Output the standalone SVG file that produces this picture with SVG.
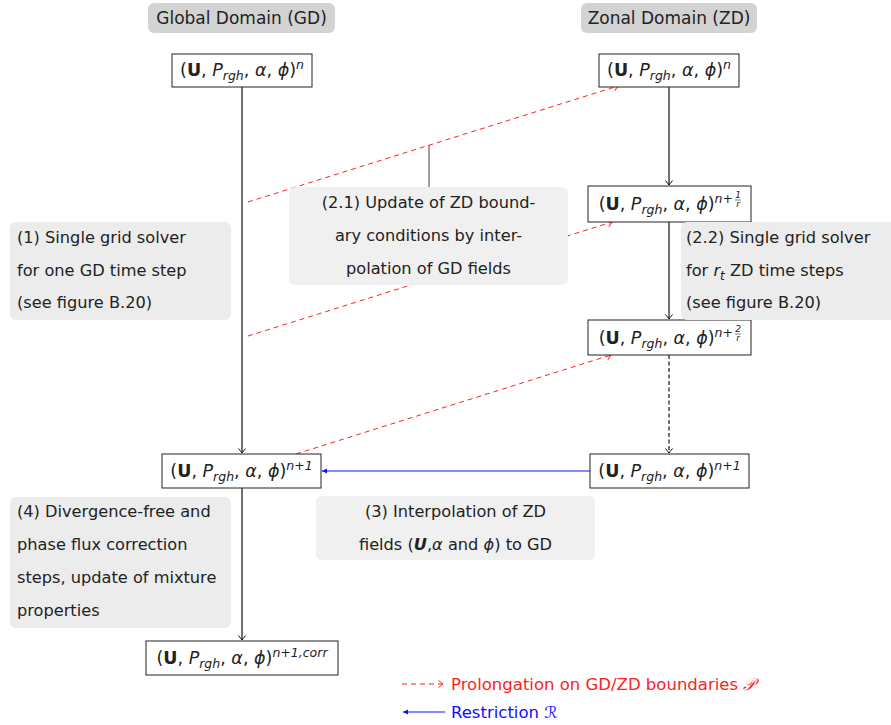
<svg xmlns="http://www.w3.org/2000/svg" width="891" height="725" viewBox="0 0 891 725" font-family="'DejaVu Sans', sans-serif">
<style>
  text { font-family: "DejaVu Sans", sans-serif; fill: #222; font-size: 16.2px; }
  .h { font-size: 17px; }
  .hdr { fill: #d3d3d3; }
  .note { fill: #ececec; }
  .note2 { fill: #f0f0f0; }
  .box { fill: #fff; stroke: #222; stroke-width: 1; }
  .m { font-size: 17.5px; }
  .i { font-style: italic; }
  .b { font-weight: bold; }
  .sub { font-size: 12.5px; font-style: italic; }
  .sup { font-size: 12.5px; font-style: italic; }
  .fr { font-size: 9px; font-style: italic; }
  .lg { font-size: 16.5px; }
  .solid { stroke: #111; stroke-width: 1.2; fill: none; }
  .bdash { stroke: #111; stroke-width: 1.2; fill: none; stroke-dasharray: 4 2.5; }
  .red { stroke: #ff2020; stroke-width: 1; fill: none; stroke-dasharray: 5 4; }
  .blue { stroke: #1010ff; stroke-width: 1.2; fill: none; }
</style>
<defs>
  <marker id="to" markerUnits="userSpaceOnUse" markerWidth="12" markerHeight="12" viewBox="-6 -6 12 12" refX="0" refY="0" orient="auto">
    <path d="M-4.5,-3.5 Q-1.2,-1 0,0 Q-1.2,1 -4.5,3.5" fill="none" stroke="#111" stroke-width="1"/>
  </marker>
  <marker id="toRed" markerUnits="userSpaceOnUse" markerWidth="12" markerHeight="12" viewBox="-6 -6 12 12" refX="0" refY="0" orient="auto">
    <path d="M-4.5,-3.5 Q-1.2,-1 0,0 Q-1.2,1 -4.5,3.5" fill="none" stroke="#ff2020" stroke-width="1"/>
  </marker>
  <marker id="tri" markerUnits="userSpaceOnUse" markerWidth="12" markerHeight="12" viewBox="-6 -6 12 12" refX="0" refY="0" orient="auto">
    <path d="M-5,-2.5 L0,0 L-5,2.5 Z" fill="#1010ff"/>
  </marker>
</defs>

<g id="connectors">
  <line class="solid" x1="242" y1="87" x2="242" y2="453" marker-end="url(#to)"/>
  <line class="solid" x1="242" y1="488" x2="242" y2="640" marker-end="url(#to)"/>
  <line class="solid" x1="669" y1="87" x2="669" y2="185" marker-end="url(#to)"/>
  <line class="solid" x1="669" y1="222" x2="669" y2="319" marker-end="url(#to)"/>
  <line class="bdash" x1="669" y1="355" x2="669" y2="453" marker-end="url(#to)"/>
  <line class="blue" x1="590" y1="471" x2="322" y2="471" marker-end="url(#tri)"/>
  <line class="red" x1="248" y1="202" x2="618" y2="86" marker-end="url(#toRed)"/>
  <line class="red" x1="248" y1="336" x2="612" y2="222" marker-end="url(#toRed)"/>
  <line class="red" x1="296" y1="454" x2="611" y2="355" marker-end="url(#toRed)"/>
  <line x1="429" y1="145" x2="429" y2="187" stroke="#444" stroke-width="1"/>
</g>

<g id="hdr-gd">
  <rect class="hdr" x="148" y="3" width="187" height="30" rx="6"/>
  <text class="h" x="241.5" y="24" text-anchor="middle">Global Domain (GD)</text>
</g>
<g id="hdr-zd">
  <rect class="hdr" x="581" y="3" width="176" height="30" rx="6"/>
  <text class="h" x="669" y="24" text-anchor="middle">Zonal Domain (ZD)</text>
</g>

<g id="gd-n">
  <rect class="box" x="172" y="54" width="140" height="33"/>
  <text class="m" x="242" y="76" text-anchor="middle">(<tspan class="b">U</tspan>, <tspan class="i">P</tspan><tspan class="sub" dy="4">rgh</tspan><tspan dy="-4">, </tspan><tspan class="i">α</tspan>, <tspan class="i">ϕ</tspan>)<tspan class="sup" dy="-7">n</tspan></text>
</g>

<g id="zd-n">
  <rect class="box" x="599" y="54" width="140" height="33"/>
  <text class="m" x="669" y="76" text-anchor="middle">(<tspan class="b">U</tspan>, <tspan class="i">P</tspan><tspan class="sub" dy="4">rgh</tspan><tspan dy="-4">, </tspan><tspan class="i">α</tspan>, <tspan class="i">ϕ</tspan>)<tspan class="sup" dy="-7">n</tspan></text>
</g>

<g id="zd-n1r">
  <rect class="box" x="588" y="186" width="163" height="36"/>
  <text class="m" x="733" y="210" text-anchor="end">(<tspan class="b">U</tspan>, <tspan class="i">P</tspan><tspan class="sub" dy="4">rgh</tspan><tspan dy="-4">, </tspan><tspan class="i">α</tspan>, <tspan class="i">ϕ</tspan>)<tspan class="sup" dy="-7">n+</tspan></text>
  <text class="fr" x="738" y="198" text-anchor="middle" font-style="normal">1</text>
  <line x1="735" y1="200" x2="741" y2="200" stroke="#222" stroke-width="0.6"/>
  <text class="fr" x="738" y="207" text-anchor="middle">r</text>
</g>

<g id="zd-n2r">
  <rect class="box" x="588" y="320" width="163" height="35"/>
  <text class="m" x="733" y="344" text-anchor="end">(<tspan class="b">U</tspan>, <tspan class="i">P</tspan><tspan class="sub" dy="4">rgh</tspan><tspan dy="-4">, </tspan><tspan class="i">α</tspan>, <tspan class="i">ϕ</tspan>)<tspan class="sup" dy="-7">n+</tspan></text>
  <text class="fr" x="738" y="332" text-anchor="middle" font-style="normal">2</text>
  <line x1="735" y1="334" x2="741" y2="334" stroke="#222" stroke-width="0.6"/>
  <text class="fr" x="738" y="341" text-anchor="middle">r</text>
</g>

<g id="gd-n1">
  <rect class="box" x="162" y="454" width="159" height="34"/>
  <text class="m" x="241.5" y="477" text-anchor="middle">(<tspan class="b">U</tspan>, <tspan class="i">P</tspan><tspan class="sub" dy="4">rgh</tspan><tspan dy="-4">, </tspan><tspan class="i">α</tspan>, <tspan class="i">ϕ</tspan>)<tspan class="sup" dy="-7">n+1</tspan></text>
</g>

<g id="zd-n1">
  <rect class="box" x="590" y="454" width="159" height="34"/>
  <text class="m" x="669.5" y="477" text-anchor="middle">(<tspan class="b">U</tspan>, <tspan class="i">P</tspan><tspan class="sub" dy="4">rgh</tspan><tspan dy="-4">, </tspan><tspan class="i">α</tspan>, <tspan class="i">ϕ</tspan>)<tspan class="sup" dy="-7">n+1</tspan></text>
</g>

<g id="gd-corr">
  <rect class="box" x="146" y="641" width="192" height="34"/>
  <text class="m" x="242" y="664" text-anchor="middle">(<tspan class="b">U</tspan>, <tspan class="i">P</tspan><tspan class="sub" dy="4">rgh</tspan><tspan dy="-4">, </tspan><tspan class="i">α</tspan>, <tspan class="i">ϕ</tspan>)<tspan class="sup" dy="-7">n+1,corr</tspan></text>
</g>

<g id="note1">
  <rect class="note" x="10" y="222" width="221" height="98" rx="6"/>
  <text x="17" y="243">(1) Single grid solver</text>
  <text x="17" y="276">for one GD time step</text>
  <text x="17" y="308">(see figure B.20)</text>
</g>

<g id="note21">
  <rect class="note2" x="289" y="187" width="279" height="98" rx="6"/>
  <text x="428.5" y="208" text-anchor="middle">(2.1) Update of ZD bound-</text>
  <text x="428.5" y="241" text-anchor="middle">ary conditions by inter-</text>
  <text x="428.5" y="274" text-anchor="middle">polation of GD fields</text>
</g>

<g id="note22">
  <rect class="note" x="681" y="222" width="215" height="98" rx="6"/>
  <text x="686" y="243">(2.2) Single grid solver</text>
  <text x="686" y="276">for <tspan class="i">r</tspan><tspan font-size="12" font-style="italic" dy="4">t</tspan><tspan dy="-4"> ZD time steps</tspan></text>
  <text x="686" y="308">(see figure B.20)</text>
</g>

<g id="note3">
  <rect class="note2" x="316" y="496" width="279" height="64" rx="6"/>
  <text x="455.5" y="517" text-anchor="middle">(3) Interpolation of ZD</text>
  <text x="455.5" y="550" text-anchor="middle">fields (<tspan class="b i">U</tspan>,<tspan class="i">α</tspan> and <tspan class="i">ϕ</tspan>) to GD</text>
</g>

<g id="note4">
  <rect class="note" x="10" y="497" width="221" height="131" rx="6"/>
  <text x="17" y="517">(4) Divergence-free and</text>
  <text x="17" y="550">phase flux correction</text>
  <text x="17" y="583">steps, update of mixture</text>
  <text x="17" y="616">properties</text>
</g>

<g id="legend">
  <line class="red" x1="402" y1="684" x2="443" y2="684" stroke-dasharray="4 3" marker-end="url(#toRed)"/>
  <text class="lg" x="451" y="690" style="fill:#ff2020">Prolongation on GD/ZD boundaries <tspan class="i">𝒫</tspan></text>
  <line class="blue" x1="445" y1="712" x2="403" y2="712" marker-end="url(#tri)"/>
  <text class="lg" x="451" y="718" style="fill:#1010ff">Restriction <tspan class="i">ℛ</tspan></text>
</g>
</svg>
